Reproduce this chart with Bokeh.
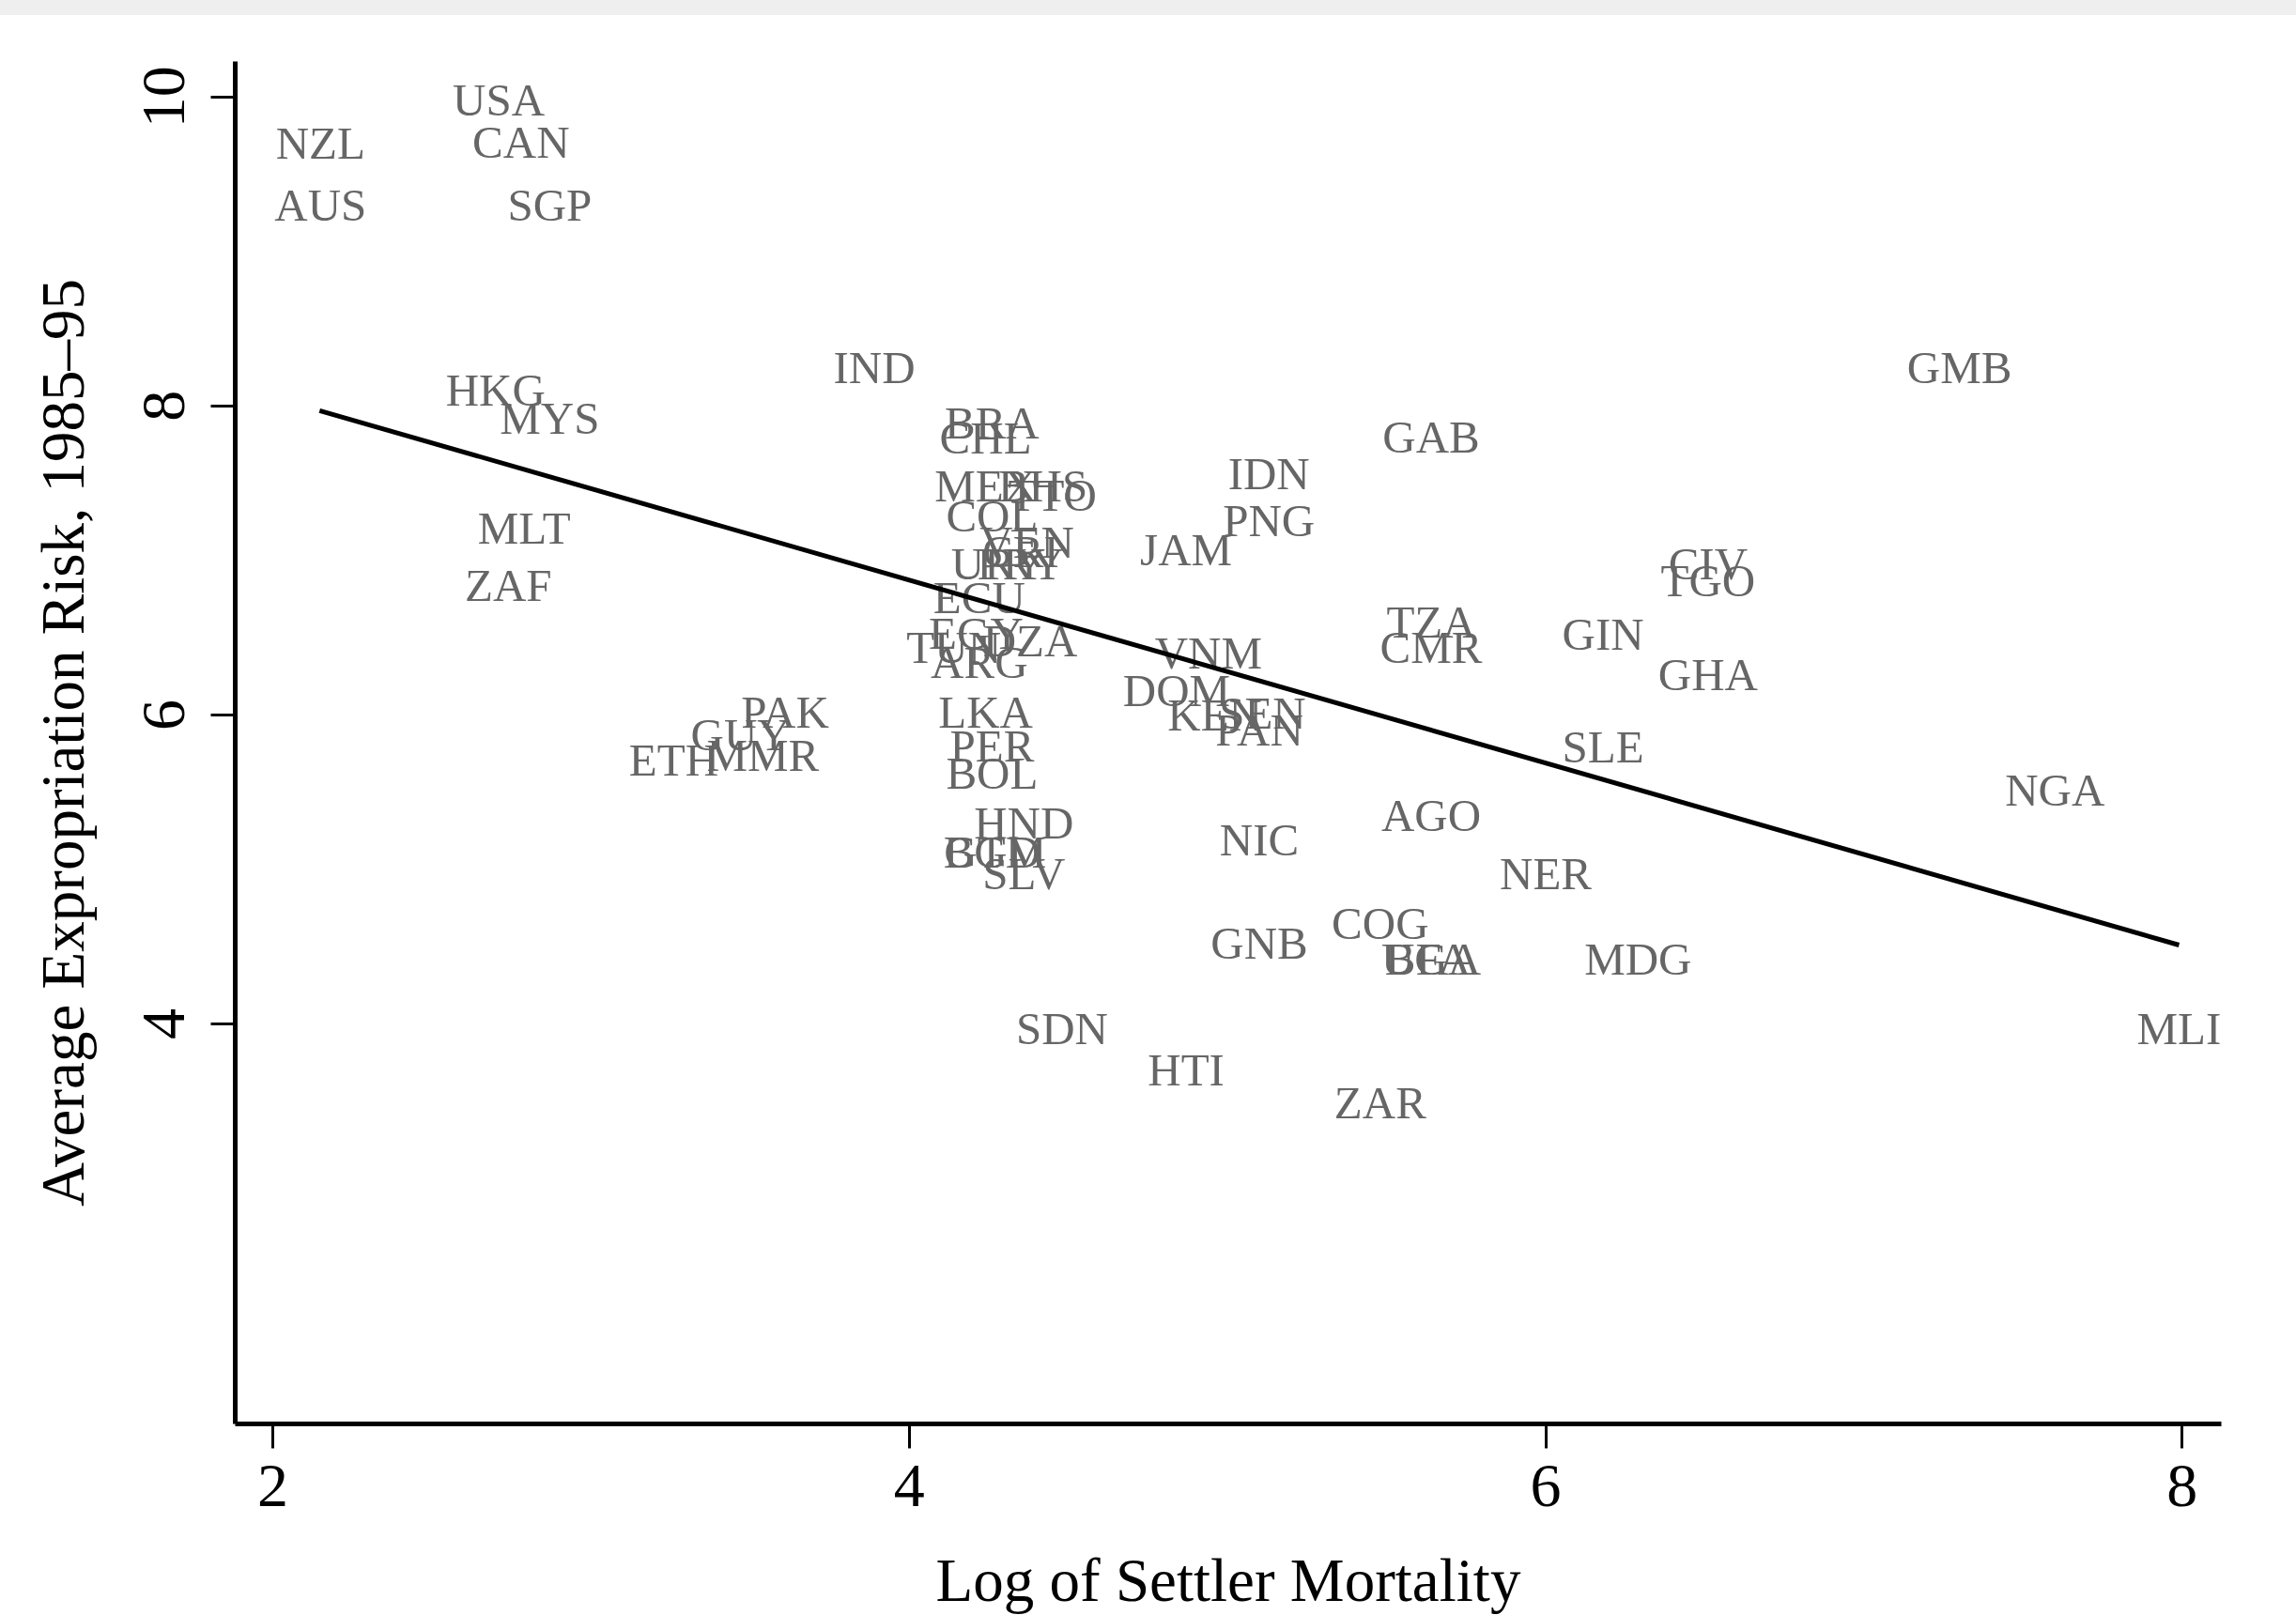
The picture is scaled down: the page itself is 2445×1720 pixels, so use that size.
from bokeh.plotting import figure
from bokeh.models import ColumnDataSource, Range1d, FixedTicker, Div
from bokeh.layouts import column
from bokeh.core.properties import value
from bokeh.embed import file_html
from bokeh.resources import INLINE

# Country codes, log settler mortality (x), average expropriation risk 1985-95 (y)
countries = ["USA", "NZL", "CAN", "AUS", "SGP", "HKG", "MYS", "IND", "GMB", "MLT",
             "ZAF", "BRA", "CHL", "GAB", "IDN", "MEX", "BHS", "TTO", "PNG", "COL",
             "JAM", "VEN", "CRI", "PRY", "URY", "CIV", "TGO", "ECU", "EGY", "DZA",
             "TUN", "ARG", "TZA", "CMR", "GIN", "GHA", "VNM", "DOM", "KEN", "SEN",
             "PAN", "LKA", "PAK", "GUY", "MMR", "ETH", "PER", "BOL", "SLE", "NGA",
             "AGO", "HND", "NIC", "GTM", "BGD", "SLV", "NER", "COG", "GNB", "UGA",
             "BFA", "MDG", "SDN", "MLI", "HTI", "ZAR"]
log_mortality = [2.71, 2.15, 2.78, 2.15, 2.87, 2.70, 2.87, 3.89, 7.30, 2.79,
                 2.74, 4.26, 4.24, 5.64, 5.13, 4.24, 4.42, 4.45, 5.13, 4.26,
                 4.87, 4.37, 4.35, 4.35, 4.28, 6.51, 6.51, 4.22, 4.21, 4.38,
                 4.14, 4.22, 5.64, 5.64, 6.18, 6.51, 4.94, 4.84, 4.96, 5.11,
                 5.10, 4.24, 3.61, 3.47, 3.54, 3.26, 4.26, 4.26, 6.18, 7.60,
                 5.64, 4.36, 5.10, 4.27, 4.26, 4.36, 6.00, 5.48, 5.10, 5.64,
                 5.63, 6.29, 4.48, 7.99, 4.87, 5.48]
expropriation = [9.98, 9.70, 9.71, 9.30, 9.30, 8.10, 7.92, 8.25, 8.25, 7.21,
                 6.84, 7.89, 7.79, 7.80, 7.56, 7.48, 7.48, 7.42, 7.26, 7.29,
                 7.07, 7.12, 7.06, 6.98, 6.98, 6.98, 6.87, 6.76, 6.53, 6.48,
                 6.44, 6.34, 6.60, 6.44, 6.52, 6.26, 6.40, 6.16, 6.00, 6.01,
                 5.90, 6.02, 6.02, 5.87, 5.74, 5.71, 5.80, 5.62, 5.79, 5.51,
                 5.35, 5.30, 5.19, 5.11, 5.11, 4.97, 4.97, 4.65, 4.52, 4.42,
                 4.42, 4.42, 3.97, 3.97, 3.70, 3.49]

# Fitted OLS line end points
fit_x = [2.147, 7.99]
fit_y = [7.97, 4.51]

x_ticks = [2, 4, 6, 8]
y_ticks = [4, 6, 8, 10]
x_title = "Log of Settler Mortality"
y_title = "Average Expropriation Risk, 1985\u201395"

FONT = "Liberation Serif"

p = figure(frame_width=2115, frame_height=1451,
           min_border_left=250, min_border_right=80,
           min_border_top=49, min_border_bottom=204,
           x_range=Range1d(1.882, 8.123), y_range=Range1d(1.41, 10.23),
           output_backend="svg", toolbar_location=None,
           background_fill_color="white", border_fill_color="white")
p.outline_line_color = None
p.grid.visible = False

src = ColumnDataSource(dict(x=log_mortality, y=expropriation, t=countries))
p.text(x="x", y="y", text="t", source=src, text_align="center",
       text_baseline="middle", text_font=value(FONT), text_font_size="49px",
       text_color="#666666")

p.line(fit_x, fit_y, line_color="black", line_width=5)

for ax in (p.xaxis[0], p.yaxis[0]):
    ax.axis_line_width = 5
    ax.axis_line_color = "black"
    ax.major_tick_line_width = 3
    ax.major_tick_line_color = "black"
    ax.major_tick_in = 0
    ax.major_tick_out = 26
    ax.minor_tick_line_color = None
    ax.major_label_text_font = FONT
    ax.major_label_text_font_size = "66px"
    ax.major_label_text_color = "black"
    ax.axis_label_text_font = FONT
    ax.axis_label_text_font_size = "65px"
    ax.axis_label_text_font_style = "normal"
    ax.axis_label_text_color = "black"

p.xaxis[0].ticker = FixedTicker(ticks=x_ticks)
p.yaxis[0].ticker = FixedTicker(ticks=y_ticks)
p.xaxis[0].axis_label = x_title
p.yaxis[0].axis_label = y_title
p.yaxis[0].major_label_orientation = "vertical"
p.xaxis[0].major_label_standoff = 18
p.yaxis[0].major_label_standoff = 28
p.xaxis[0].axis_label_standoff = 40
p.yaxis[0].axis_label_standoff = 48

band = Div(text="", width=2445, height=16, margin=0,
           styles={"background-color": "#efefef"})
layout = column(band, p, spacing=0, margin=0)

open("out.html", "w").write(file_html(layout, INLINE))
